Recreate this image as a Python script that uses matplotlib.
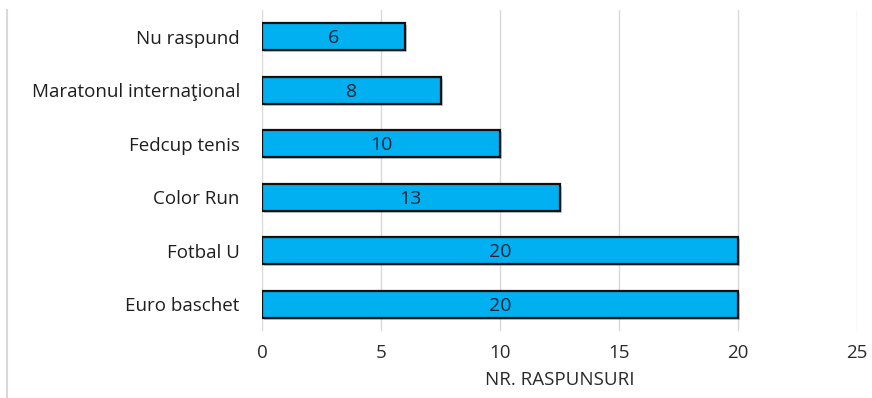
import matplotlib
matplotlib.use("Agg")
import matplotlib.pyplot as plt
from matplotlib.lines import Line2D
import matplotlib.patheffects as pe

categories = ["Euro baschet", "Fotbal U", "Color Run", "Fedcup tenis",
              "Maratonul internaţional", "Nu raspund"]
values = [20, 20, 12.5, 10, 7.5, 6]
value_labels = ["20", "20", "13", "10", "8", "6"]
xticks = [0, 5, 10, 15, 20, 25]

plt.rcParams['font.family'] = ['Open Sans', 'DejaVu Sans']

fig = plt.figure(figsize=(8.72, 3.98), dpi=100)
ax = fig.add_axes([262/872, 1-331/398, (857-262)/872, (331-10)/398])

y = list(range(len(categories)))
bars = ax.barh(y, values, height=0.5, color="#00B0F0", edgecolor="#111111",
               linewidth=1.6, zorder=3,
               path_effects=[pe.SimplePatchShadow(offset=(1.5, -1.5), alpha=0.25), pe.Normal()])
for b, lab in zip(bars, value_labels):
    ax.text(b.get_x() + b.get_width()/2, b.get_y() + b.get_height()/2 - 0.03, lab,
            ha="center", va="center", fontsize=14, color="#17263A", zorder=4)

ax.set_xlim(0, 25)
ax.set_ylim(-0.5, 5.5)
ax.set_xticks(xticks)
ax.set_xticklabels([str(t) for t in xticks], fontsize=13.5, color="#2A2A2A")
ax.set_yticks(y)
ax.set_yticklabels(categories, fontsize=13.5, color="#1E1E1E")
ax.tick_params(axis="both", length=0)
ax.tick_params(axis="x", pad=9)
ax.tick_params(axis="y", pad=16)
ax.grid(axis="x", color="#D9D9D9", linewidth=1.0, zorder=0)
ax.set_axisbelow(True)
for s in ax.spines.values():
    s.set_visible(False)
ax.set_xlabel("NR. RASPUNSURI", fontsize=13.5, color="#2A2A2A", labelpad=7)

fig.add_artist(Line2D([7/872, 7/872], [0, 1-10/398], color="#D9D9D9", linewidth=1.5))

fig.savefig("out.png", dpi=100, facecolor="white")
